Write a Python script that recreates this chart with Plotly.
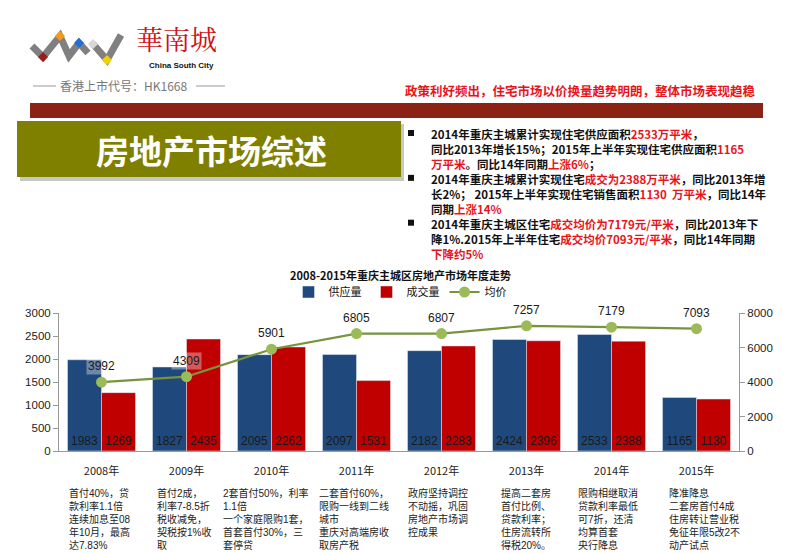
import plotly.graph_objects as go

# ---------------- data ----------------
years = ["2008年", "2009年", "2010年", "2011年", "2012年", "2013年", "2014年", "2015年"]
supply = [1983, 1827, 2095, 2097, 2182, 2424, 2533, 1165]
deals = [1269, 2435, 2262, 1531, 2283, 2396, 2388, 1130]
price = [3992, 4309, 5901, 6805, 6807, 7257, 7179, 7093]
left_ticks = [0, 500, 1000, 1500, 2000, 2500, 3000]
right_ticks = [0, 2000, 4000, 6000, 8000]

notes = [
    ["首付40%，贷", "款利率1.1倍", "连续加息至08", "年10月，最高", "达7.83%"],
    ["首付2成，", "利率7-8.5折", "税收减免，", "契税按1%收", "取"],
    ["2套首付50%，利率", "1.1倍", "一个家庭限购1套，", "首套首付30%，三", "套停贷"],
    ["二套首付60%，", "限购一线到二线", "城市", "重庆对高端房收", "取房产税"],
    ["政府坚持调控", "不动摇，巩固", "房地产市场调", "控成果"],
    ["提高二套房", "首付比例、", "贷款利率；", "住房流转所", "得税20%。"],
    ["限购相继取消", "贷款利率最低", "可7折，还清", "均算首套", "央行降息"],
    ["降准降息", "二套房首付4成", "住房转让营业税", "免征年限5改2不", "动产试点"],
]
note_left_px = [68, 156, 222, 318, 407, 500, 577, 668]

R = "<span style='color:#e8141b'>%s</span>"
bullet_lines = [
    "2014年重庆主城累计实现住宅供应面积" + R % "2533万平米" + "，",
    "同比2013年增长15%；2015年上半年实现住宅供应面积" + R % "1165",
    R % "万平米" + "。同比14年同期" + R % "上涨6%" + "；",
    "2014年重庆主城累计实现住宅" + R % "成交为2388万平米" + "，同比2013年增",
    "长2%； 2015年上半年实现住宅销售面积" + R % "1130  万平米" + "，同比14年",
    "同期" + R % "上涨14%",
    "2014年重庆主城区住宅" + R % "成交均价为7179元/平米" + "，同比2013年下",
    "降1%.2015年上半年住宅" + R % "成交均价7093元/平米" + "，同比14年同期",
    R % "下降约5%",
]
bullet_start_rows = [0, 3, 6]

# ---------------- geometry helpers ----------------
W, H = 800, 553
PL, PR, PT, PB = 59, 739, 313, 451


def X(px):
    return (px - PL) / (PR - PL)


def Y(py):
    return (PB - py) / (PB - PT)


FONT = "Liberation Sans, Noto Sans CJK SC, sans-serif"
CJK = "Noto Sans CJK SC, sans-serif"

fig = go.Figure()
fig.add_trace(go.Bar(
    name="供应量", x=years, y=supply, marker_color="#1F497D",
    text=[str(v) for v in supply], textposition="inside", insidetextanchor="start",
    textangle=0, insidetextfont=dict(color="#1a1a1a", size=12, family=FONT),
    constraintext="none",
))
fig.add_trace(go.Bar(
    name="成交量", x=years, y=deals, marker_color="#C00000",
    text=[str(v) for v in deals], textposition="inside", insidetextanchor="start",
    textangle=0, insidetextfont=dict(color="#1a1a1a", size=12, family=FONT),
    constraintext="none",
))
fig.add_trace(go.Scatter(
    name="均价", x=years, y=price, yaxis="y2", mode="lines+markers",
    line=dict(color="#77933C", width=2.2),
    marker=dict(color="#9BBB59", size=11, line=dict(width=0)),
))

annotations = []
shapes = []


def note(px, py, text, size, color, family=CJK, xanchor="center", yanchor="middle", **kw):
    annotations.append(dict(
        x=X(px), y=Y(py), xref="paper", yref="paper", xanchor=xanchor,
        yanchor=yanchor, text=text, showarrow=False,
        font=dict(size=size, color=color, family=family), **kw))


# line data labels
for yr, p in zip(years, price):
    annotations.append(dict(
        x=yr, y=p, xref="x", yref="y2", text=str(p), showarrow=False,
        xanchor="center", yanchor="middle",
        yshift=16, font=dict(size=12, color="#1a1a1a", family=FONT),
        bgcolor="rgba(255,255,255,0.35)",
    ))

# chart title
note(400, 275, "<b>2008-2015年重庆主城区房地产市场年度走势</b>", 11, "#111")

# notes under categories (one block per category)
for lines, lx in zip(notes, note_left_px):
    note(lx, 486, "<br>".join(lines), 10, "#222", family=FONT, xanchor="left",
         yanchor="top", align="left", borderpad=0)

# bullet text (one block)
BFS = 11.5
line_h = BFS * 1.3
first_line_px = 133
note(430, first_line_px - line_h / 2 - 1, "<b>" + "<br>".join(bullet_lines) + "</b>", BFS,
     "#111", xanchor="left", yanchor="top", align="left", borderpad=0)
for r in bullet_start_rows:
    by = first_line_px + r * line_h
    shapes.append(dict(type="rect", xref="paper", yref="paper",
                       x0=X(408), x1=X(414), y0=Y(by - 3), y1=Y(by + 3),
                       fillcolor="#111", line=dict(width=0)))

# header: red slogan
note(758, 90, "<b>政策利好频出，住宅市场以价换量趋势明朗，整体市场表现趋稳</b>", 12.5,
     "#E8141B", xanchor="right")
# header: dark red band
shapes.append(dict(type="rect", xref="paper", yref="paper",
                   x0=X(30), x1=X(763), y0=Y(103), y1=Y(118),
                   fillcolor="#8B2214", line=dict(width=0)))
# olive title box with shadow
shapes.append(dict(type="rect", xref="paper", yref="paper",
                   x0=X(20), x1=X(404), y0=Y(124), y1=Y(181),
                   fillcolor="rgba(0,0,0,0.22)", line=dict(width=0)))
shapes.append(dict(type="rect", xref="paper", yref="paper",
                   x0=X(17), x1=X(401), y0=Y(121), y1=Y(177),
                   fillcolor="#808000", line=dict(width=0)))
note(211, 150, "<b>房地产市场综述</b>", 33, "#ffffff")

# logo
gray = "#808080"
shapes.append(dict(type="path", xref="paper", yref="paper",
                   path="M %f,%f L %f,%f L %f,%f L %f,%f L %f,%f L %f,%f" % (
                       X(32), Y(46), X(43), Y(57), X(60), Y(36), X(69), Y(56),
                       X(79), Y(43), X(88), Y(53)),
                   line=dict(color=gray, width=7)))
shapes.append(dict(type="path", xref="paper", yref="paper",
                   path="M %f,%f L %f,%f L %f,%f" % (
                       X(93), Y(44), X(107), Y(60), X(121), Y(35)),
                   line=dict(color=gray, width=7)))
for cx, cy, col in [(43, 57, "#9B1C1C"), (60, 36, "#F39A1E"), (79, 43, "#1F6FD8"),
                    (93, 44, "#D8D8D8"), (107, 60, "#F5D000")]:
    shapes.append(dict(type="path", xref="paper", yref="paper",
                       path="M %f,%f L %f,%f L %f,%f L %f,%f Z" % (
                           X(cx - 5), Y(cy), X(cx), Y(cy - 5), X(cx + 5), Y(cy),
                           X(cx), Y(cy + 5)),
                       fillcolor=col, line=dict(width=0)))
note(176, 38, "華南城", 27, "#D0111B",
     family="Noto Serif CJK SC, Noto Sans CJK SC, serif", borderpad=0)
note(181, 65, "<b>China South City</b>", 8, "#111", family=FONT, borderpad=0)
note(123, 86, "香港上市代号：HK1668", 12, "#777")
for x0, x1 in [(33, 56), (196, 225)]:
    shapes.append(dict(type="line", xref="paper", yref="paper",
                       x0=X(x0), x1=X(x1), y0=Y(86), y1=Y(86),
                       line=dict(color="#999", width=1)))

fig.update_layout(
    width=W, height=H,
    margin=dict(l=PL, r=W - PR, t=PT, b=H - PB, pad=0),
    paper_bgcolor="white", plot_bgcolor="white",
    barmode="group", bargap=0.2, bargroupgap=0,
    font=dict(family=FONT, size=11, color="#333"),
    showlegend=True,
    legend=dict(orientation="h", x=X(400), xanchor="center", y=Y(292), yanchor="middle",
                font=dict(size=11, color="#111", family=CJK), traceorder="normal",
                itemwidth=30, tracegroupgap=0, bgcolor="rgba(0,0,0,0)"),
    xaxis=dict(showline=True, linecolor="#999", linewidth=1, ticks="",
               tickfont=dict(size=11, color="#222", family=CJK),
               ticklabelstandoff=10, showgrid=False, fixedrange=True),
    yaxis=dict(range=[0, 3000], tickvals=left_ticks, showline=True, linecolor="#999",
               ticks="outside", ticklen=5, tickcolor="#999", showgrid=False,
               zeroline=False, tickfont=dict(size=11.5, color="#222")),
    yaxis2=dict(range=[0, 8000], tickvals=right_ticks, overlaying="y", side="right",
                showline=True, linecolor="#999", ticks="outside", ticklen=5,
                tickcolor="#999", showgrid=False, zeroline=False,
                tickfont=dict(size=11.5, color="#222")),
    annotations=annotations, shapes=shapes,
)

fig.write_html("out.html")
